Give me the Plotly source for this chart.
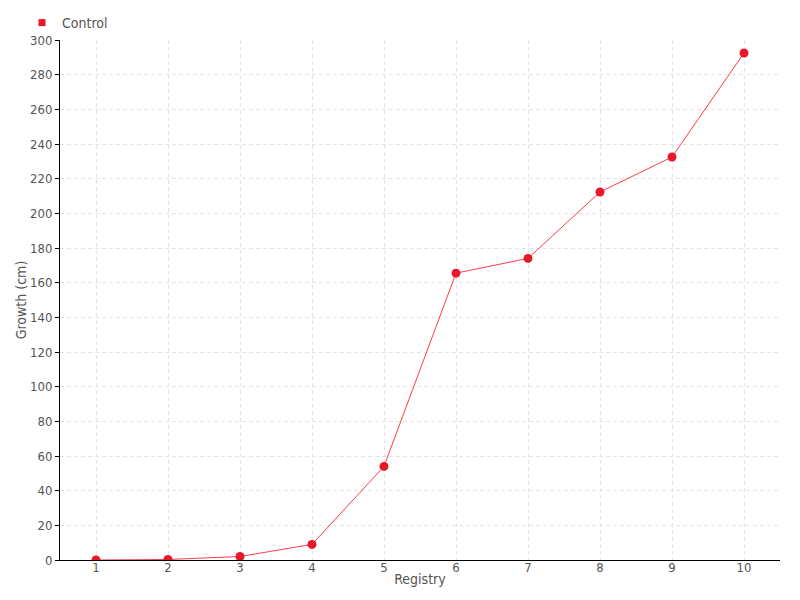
import plotly.graph_objects as go

categories = ["1", "2", "3", "4", "5", "6", "7", "8", "9", "10"]
control = [0, 0.3, 2, 9, 54, 165.5, 174, 212.3, 232.5, 292.5]
y_ticks = list(range(0, 301, 20))

FONT = "DejaVu Sans Condensed, DejaVu Sans, sans-serif"
RED = "#e8172b"
LINE = "#ff3a4c"
TXT = "#555555"
GRID = "#e3e3e3"

fig = go.Figure()
fig.add_trace(go.Scatter(
    x=categories, y=control, mode="lines+markers", name="Control",
    line=dict(color=LINE, width=1),
    marker=dict(color=RED, size=9),
    showlegend=False,
))
fig.add_trace(go.Scatter(
    x=[None], y=[None], mode="markers", name="Control",
    marker=dict(color=RED, size=7, symbol="square"),
    showlegend=True,
))

fig.update_layout(
    width=800, height=600,
    margin=dict(l=60, r=20, t=40, b=40, autoexpand=False),
    paper_bgcolor="white", plot_bgcolor="white",
    font=dict(family=FONT, size=13, color=TXT),
    legend=dict(x=22 / 800, y=1.0 - 7 / 600, xref="container", yref="container",
                xanchor="left", yanchor="top", orientation="h",
                font=dict(size=14, color=TXT), itemwidth=30,
                bgcolor="rgba(0,0,0,0)"),
    xaxis=dict(
        type="category", range=[-0.5, 9.5], automargin=False,
        showline=True, linecolor="black", linewidth=1,
        showgrid=True, gridcolor=GRID, griddash="4px,3px", gridwidth=1,
        ticks="", ticklabelstandoff=-5,
        title=dict(text="Registry", standoff=0, font=dict(size=14, color=TXT)),
        zeroline=False,
    ),
    yaxis=dict(
        range=[0, 300], tickvals=y_ticks, automargin=False,
        showline=True, linecolor="black", linewidth=1,
        showgrid=True, gridcolor=GRID, griddash="4px,3px", gridwidth=1,
        ticks="outside", ticklen=4, tickcolor="black",
        title=dict(text="Growth (cm)", standoff=0, font=dict(size=14, color=TXT)),
        zeroline=False,
    ),
)

fig.write_html("out.html", config={"displayModeBar": False},
               post_script="document.body.style.margin='0';")
